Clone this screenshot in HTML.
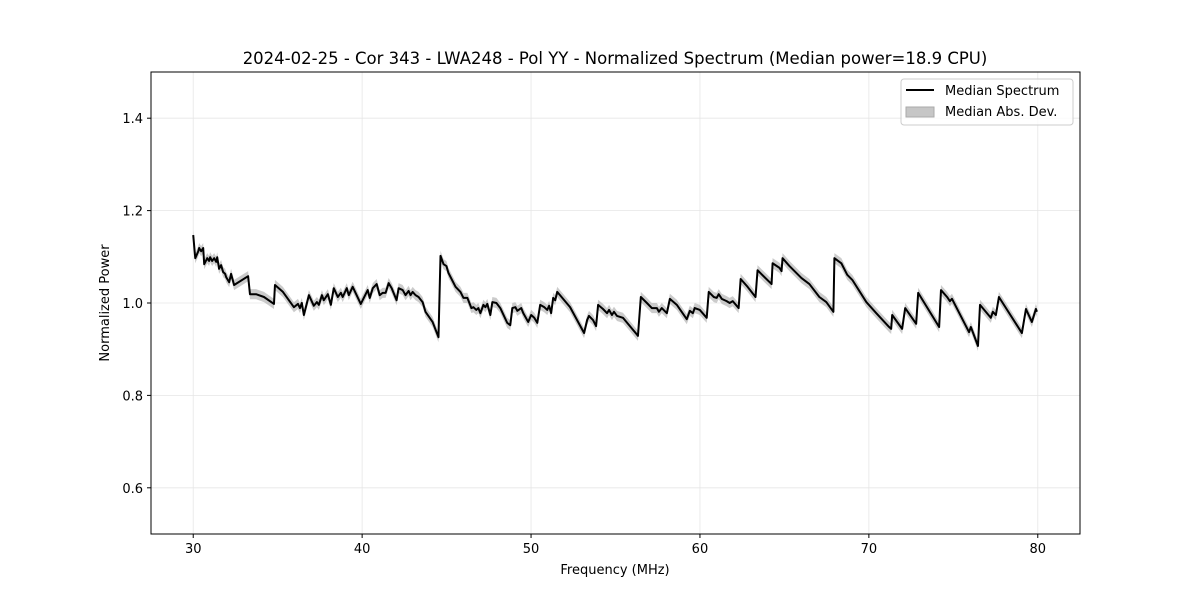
<!DOCTYPE html>
<html><head><meta charset="utf-8">
<style>
body{margin:0;background:#fff;}
svg{display:block;font-family:"DejaVu Sans","Liberation Sans",sans-serif;}
</style></head>
<body>
<svg id="chart" width="1200" height="600" viewBox="0 0 1200 600">
<rect x="0" y="0" width="1200" height="600" fill="#fff"/>
<text x="615" y="64" text-anchor="middle" font-size="16.5" fill="#000">2024-02-25 - Cor 343 - LWA248 - Pol YY - Normalized Spectrum (Median power=18.9 CPU)</text>
<g id="grid"></g>
<g id="band"></g>
<g id="line"></g>
<rect x="151" y="72" width="929" height="462" fill="none" stroke="#000" stroke-width="1"/>
<g id="xticks"></g>
<g id="yticks"></g>
<text x="615" y="574" text-anchor="middle" font-size="13">Frequency (MHz)</text>
<text x="109" y="303" text-anchor="middle" font-size="13" transform="rotate(-90 109 303)">Normalized Power</text>
<g>
<rect x="901" y="79" width="172" height="46" rx="3" fill="#fff" fill-opacity="0.8" stroke="#ccc"/>
<line x1="906" y1="90" x2="934" y2="90" stroke="#000" stroke-width="2"/>
<text x="945" y="95" font-size="13">Median Spectrum</text>
<rect x="906" y="107" width="28" height="10" fill="#c6c6c6" stroke="#aaa" stroke-width="1"/>
<text x="945" y="116" font-size="13">Median Abs. Dev.</text>
</g>
</svg>
<script>
const freq=[30.00,30.12,30.30,30.35,30.47,30.59,30.65,30.83,30.94,31.00,31.12,31.24,31.36,31.42,31.53,31.65,31.77,31.89,31.95,32.13,32.24,32.42,33.25,33.36,33.72,34.19,34.78,34.84,35.31,35.96,36.20,36.32,36.43,36.55,36.85,37.14,37.32,37.44,37.62,37.73,37.97,38.15,38.32,38.56,38.74,38.85,39.09,39.21,39.44,39.92,40.33,40.45,40.63,40.86,41.04,41.22,41.39,41.57,41.75,42.04,42.16,42.40,42.57,42.75,42.87,42.99,43.16,43.34,43.58,43.75,44.17,44.52,44.64,44.82,44.99,45.11,45.53,45.82,46.00,46.23,46.47,46.59,46.76,46.88,47.00,47.18,47.30,47.41,47.59,47.71,47.95,48.18,48.59,48.77,48.89,49.07,49.19,49.42,49.54,49.83,50.01,50.19,50.37,50.54,50.78,50.96,51.07,51.19,51.31,51.43,51.55,52.31,53.14,53.32,53.43,53.67,53.85,53.97,54.26,54.50,54.62,54.79,54.91,55.09,55.44,56.33,56.50,56.86,57.15,57.45,57.57,57.74,58.04,58.22,58.63,59.22,59.40,59.58,59.69,59.99,60.40,60.52,60.82,60.99,61.11,61.29,61.58,61.76,61.94,62.29,62.41,62.82,63.29,63.41,63.82,64.24,64.30,64.71,64.83,64.89,65.30,66.01,66.48,67.07,67.48,67.90,67.96,68.37,68.72,69.02,69.85,70.44,71.20,71.32,71.38,71.97,72.15,72.80,72.92,74.16,74.27,74.63,74.80,74.92,75.93,76.04,76.46,76.58,77.22,77.34,77.52,77.70,79.06,79.30,79.65,79.89,79.95];
const power=[1.147,1.097,1.112,1.119,1.112,1.119,1.084,1.097,1.091,1.099,1.091,1.097,1.089,1.099,1.074,1.082,1.067,1.063,1.056,1.045,1.063,1.039,1.058,1.019,1.019,1.013,0.998,1.039,1.024,0.991,0.998,0.989,1.000,0.974,1.017,0.994,1.002,0.996,1.017,1.006,1.019,0.996,1.032,1.013,1.022,1.013,1.032,1.017,1.035,0.998,1.028,1.011,1.032,1.041,1.017,1.022,1.022,1.043,1.032,1.006,1.032,1.028,1.017,1.026,1.017,1.024,1.017,1.013,1.002,0.981,0.959,0.926,1.102,1.084,1.080,1.065,1.035,1.024,1.011,1.011,0.989,0.991,0.985,0.989,0.978,0.996,0.991,0.998,0.974,1.002,1.000,0.989,0.957,0.952,0.989,0.991,0.983,0.989,0.978,0.959,0.974,0.968,0.957,0.996,0.991,0.985,0.994,0.978,1.011,1.006,1.024,0.991,0.935,0.963,0.972,0.963,0.950,0.996,0.987,0.978,0.985,0.974,0.981,0.972,0.968,0.929,1.013,1.000,0.989,0.989,0.981,0.989,0.978,1.009,0.996,0.965,0.983,0.978,0.989,0.985,0.968,1.024,1.013,1.011,1.019,1.009,1.004,1.000,1.004,0.989,1.052,1.035,1.013,1.071,1.056,1.041,1.086,1.076,1.069,1.097,1.080,1.054,1.041,1.013,1.002,0.981,1.097,1.086,1.061,1.050,1.002,0.978,0.948,0.944,0.974,0.944,0.989,0.955,1.022,0.948,1.028,1.013,1.004,1.009,0.937,0.948,0.907,0.996,0.968,0.981,0.974,1.013,0.935,0.987,0.959,0.987,0.981];
const madValue=0.011;
const xTicks=[30,40,50,60,70,80];
const yTicks=[0.6,0.8,1.0,1.2,1.4];
const yTickLabels=["0.6","0.8","1.0","1.2","1.4"];

const NS="http://www.w3.org/2000/svg";
const X0=151,X1=1080,Y0=72,Y1=534;
const xMin=27.5,xMax=82.5,yMin=0.5,yMax=1.5;
function sx(f){return X0+(f-xMin)/(xMax-xMin)*(X1-X0);}
function sy(v){return Y1-(v-yMin)/(yMax-yMin)*(Y1-Y0);}
function mk(tag,attrs,parent){const e=document.createElementNS(NS,tag);for(const k in attrs)e.setAttribute(k,attrs[k]);parent.appendChild(e);return e;}

const grid=document.getElementById('grid'),xt=document.getElementById('xticks'),yt=document.getElementById('yticks');
xTicks.forEach(t=>{
  const x=sx(t);
  const g=mk('line',{x1:x,y1:Y0,x2:x,y2:Y1,stroke:'#e6e6e6','stroke-width':0.8},grid);
  
  
  const tk=mk('line',{x1:x,y1:Y1,x2:x,y2:Y1+4,stroke:'#000'},xt);
  
  
  const tl=mk('text',{x:x,y:Y1+19,'text-anchor':'middle','font-size':13},xt);
  tl.textContent=String(t);
  
  
});
yTicks.forEach((t,i)=>{
  const y=sy(t);
  const g=mk('line',{x1:X0,y1:y,x2:X1,y2:y,stroke:'#e6e6e6','stroke-width':0.8},grid);
  
  
  const tk=mk('line',{x1:X0-4,y1:y,x2:X0,y2:y,stroke:'#000'},yt);
  
  
  const tl=mk('text',{x:X0-8,y:y+5,'text-anchor':'end','font-size':13},yt);
  tl.textContent=yTickLabels[i];
  
  
});

let up=[],dn=[];
freq.forEach((f,i)=>{up.push(sx(f)+','+sy(power[i]+madValue));dn.unshift(sx(f)+','+sy(power[i]-madValue));});
const band=mk('polygon',{points:up.concat(dn).join(' '),fill:'#a8a8a8','fill-opacity':0.6,stroke:'none'},document.getElementById('band'));



const pts=freq.map((f,i)=>sx(f)+','+sy(power[i])).join(' ');
const ln=mk('polyline',{points:pts,fill:'none',stroke:'#000','stroke-width':2,'stroke-linejoin':'round'},document.getElementById('line'));


</script>
</body></html>
